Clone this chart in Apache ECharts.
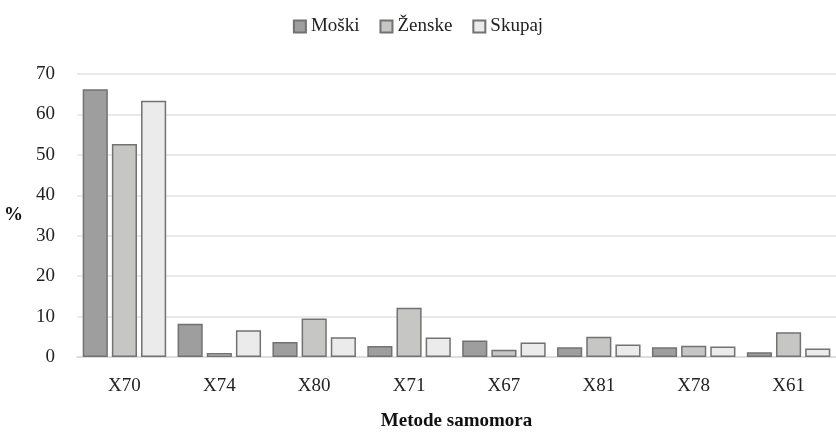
<!DOCTYPE html>
<html><head><meta charset="utf-8">
<script src="https://cdn.jsdelivr.net/npm/echarts@6/dist/echarts.min.js"></script>
<style>html,body{margin:0;padding:0;background:#fff}#c{width:836px;height:436px}</style>
</head><body><div id="c"></div>
<script>
const categories = ['X70','X74','X80','X71','X67','X81','X78','X61'];
const moski   = [66.2, 8.2, 3.7, 2.7, 4.1, 2.4, 2.4, 1.2];
const zenske  = [52.7, 1.0, 9.5, 12.2, 1.8, 5.0, 2.8, 6.1];
const skupaj  = [63.4, 6.6, 4.9, 4.8, 3.6, 3.1, 2.6, 2.1];
const yTicks  = [0, 10, 20, 30, 40, 50, 60, 70];

const font = '"Liberation Serif", "DejaVu Serif", serif';
const chart = echarts.init(document.getElementById('c'));
const mk = (name, data, color) => ({
  name, type: 'bar', data,
  barGap: '16%', barCategoryGap: '12%',
  itemStyle: { color, borderColor: '#727272', borderWidth: 1.5 }
});
chart.setOption({
  animation: false,
  textStyle: { fontFamily: font },
  legend: {
    top: 12, left: 'center', itemWidth: 12, itemHeight: 12, itemGap: 20,
    icon: 'rect',
    textStyle: { fontFamily: font, fontSize: 19, color: '#222', padding: [0, 0, 0, 0] },
    data: ['Moški', 'Ženske', 'Skupaj']
  },
  grid: { left: 77, top: 74, width: 768, height: 288, containLabel: false },
  xAxis: {
    type: 'category', data: categories,
    name: 'Metode samomora', nameLocation: 'middle', nameGap: 55,
    nameTextStyle: { fontFamily: font, fontSize: 19, fontWeight: 'bold', color: '#111' },
    axisLine: { lineStyle: { color: '#d9d9d9', width: 1.5 } },
    axisTick: { show: false },
    axisLabel: { fontFamily: font, fontSize: 19, color: '#222', margin: 20 }
  },
  yAxis: {
    type: 'value', min: 0, max: 70, interval: 10,
    name: '%', nameLocation: 'middle', nameGap: 54, nameRotate: 0,
    nameTextStyle: { fontFamily: font, fontSize: 19, fontWeight: 'bold', color: '#111' },
    axisLine: { show: false }, axisTick: { show: false },
    axisLabel: { fontFamily: font, fontSize: 19, color: '#222', margin: 22,
      formatter: v => yTicks.includes(v) ? String(v) : '' },
    splitLine: { lineStyle: { color: '#e3e3e3', width: 1.5 } }
  },
  series: [
    mk('Moški', moski, '#9e9e9e'),
    mk('Ženske', zenske, '#c6c6c4'),
    mk('Skupaj', skupaj, '#ebebeb')
  ]
});
</script></body></html>
